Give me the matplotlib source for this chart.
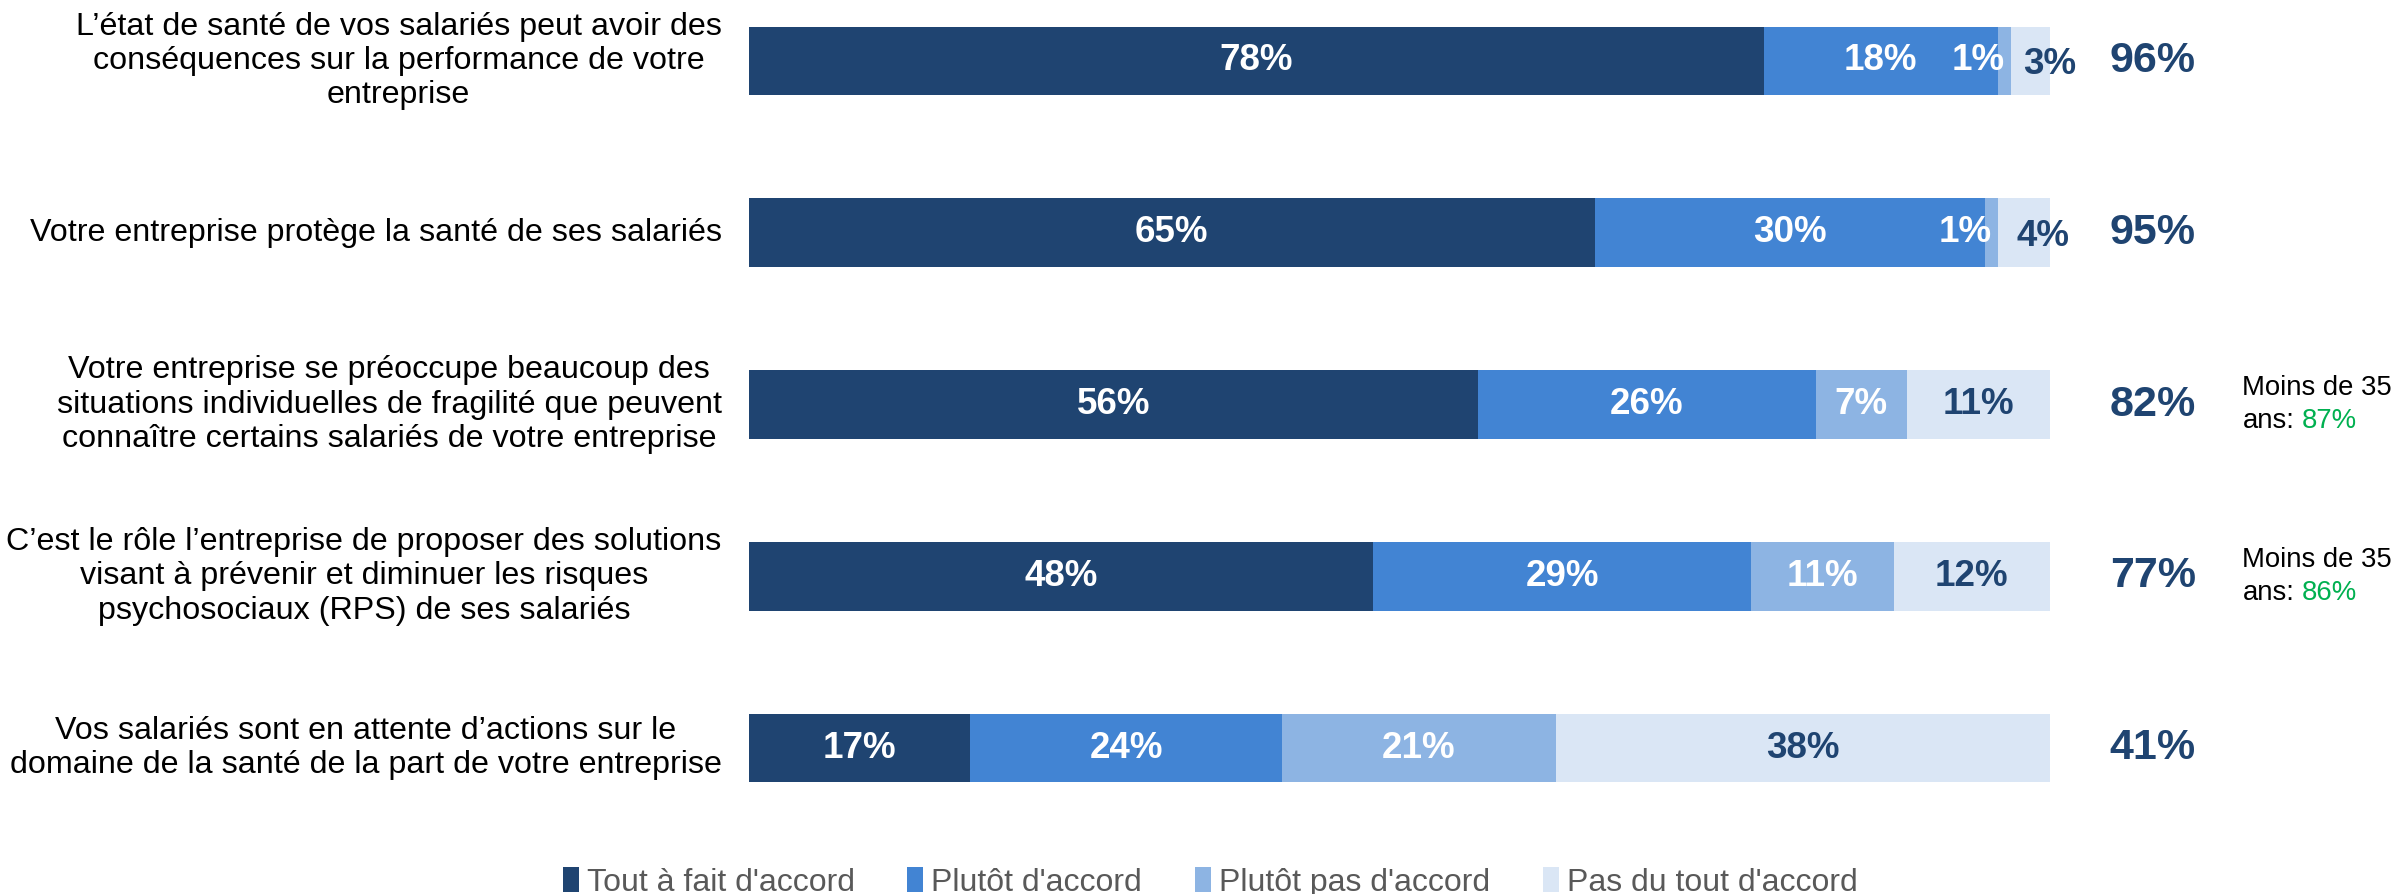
import matplotlib
matplotlib.use('Agg')
import matplotlib.pyplot as plt
from matplotlib.patches import Patch
import numpy as np

plt.rcParams['font.family'] = ['Liberation Sans', 'DejaVu Sans']

# Data
questions = [
    "L’état de santé de vos salariés peut avoir des\nconséquences sur la performance de votre\nentreprise",
    "Votre entreprise protège la santé de ses salariés",
    "Votre entreprise se préoccupe beaucoup des\nsituations individuelles de fragilité que peuvent\nconnaître certains salariés de votre entreprise",
    "C’est le rôle l’entreprise de proposer des solutions\nvisant à prévenir et diminuer les risques\npsychosociaux (RPS) de ses salariés",
    "Vos salariés sont en attente d’actions sur le\ndomaine de la santé de la part de votre entreprise",
]
series_names = ["Tout à fait d'accord", "Plutôt d'accord", "Plutôt pas d'accord", "Pas du tout d'accord"]
tout_a_fait = [78, 65, 56, 48, 17]
plutot = [18, 30, 26, 29, 24]
plutot_pas = [1, 1, 7, 11, 21]
pas_du_tout = [3, 4, 11, 12, 38]
totals = [96, 95, 82, 77, 41]
notes_young = [None, None, 87, 86, None]

colors = ['#1F4471', '#4284D3', '#8DB4E3', '#DAE6F5']
label_colors = ['white', 'white', 'white', '#1F4471']
dark = '#1F4471'

values = np.array([tout_a_fait, plutot, plutot_pas, pas_du_tout])
y = np.arange(len(questions))

fig = plt.figure(figsize=(23.99, 8.94), dpi=100)
ax = fig.add_axes([0.3122, 0.0671, 0.5423, 0.9329])

left = np.zeros(len(questions))
for k in range(4):
    ax.barh(y, values[k], left=left, height=0.40, color=colors[k], edgecolor='none')
    for i, v in enumerate(values[k]):
        if v <= 1:
            # tiny segment: label pushed into the previous bar
            ax.text(left[i] + v * 0.5, y[i], f"{v}%", ha='right', va='center',
                    color='white', fontsize=26.5, fontweight='bold')
        elif k == 3 and v < 5:
            ax.text(left[i] + v / 2 + 1.5, y[i] + 0.02, f"{v}%", ha='center', va='center',
                    color=label_colors[k], fontsize=26.5, fontweight='bold', clip_on=False)
        else:
            ax.text(left[i] + v / 2, y[i], f"{v}%", ha='center', va='center',
                    color=label_colors[k], fontsize=26.5, fontweight='bold')
    left += values[k]

for i, q in enumerate(questions):
    ax.text(-2.1, y[i], q, ha='right', va='center', multialignment='center',
            fontsize=23.2, color='black', linespacing=1.19)
    ax.text(107.9, y[i], f"{totals[i]}%", ha='center', va='center',
            fontsize=31, fontweight='bold', color=dark, clip_on=False)
    if notes_young[i] is not None:
        ax.text(114.8, y[i] - 0.096, "Moins de 35", ha='left', va='center',
                fontsize=19.8, color='black', clip_on=False)
        t = ax.text(114.8, y[i] + 0.096, "ans:", ha='left', va='center',
                    fontsize=19.8, color='black', clip_on=False)
        ax.annotate(f"{notes_young[i]}%", xy=(1, 0), xycoords=t,
                    xytext=(5, 0), textcoords='offset points',
                    ha='left', va='bottom', fontsize=19.8, color='#00B050')

ax.set_xlim(0, 100)
ax.set_ylim(4.5, -0.355)
ax.axis('off')

handles = [Patch(facecolor=c, edgecolor='none') for c in colors]
fig.legend(handles, series_names, loc='center', bbox_to_anchor=(0.5044, 0.013),
           ncol=4, frameon=False, fontsize=23, handlelength=0.5, handleheight=0.8,
           handletextpad=0.25, columnspacing=1.65, labelcolor='#595959')

fig.savefig('out.png', dpi=100)
plt.close()
